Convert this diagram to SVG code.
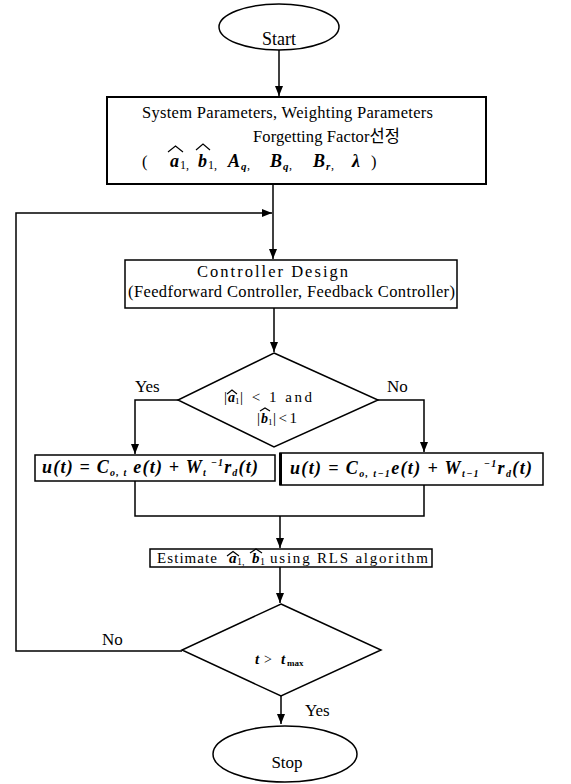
<svg xmlns="http://www.w3.org/2000/svg" width="571" height="784" viewBox="0 0 571 784">
  <style>
    .shape { fill: #fff; stroke: #000; stroke-width: 1.5; }
    .wire { fill: none; stroke: #000; stroke-width: 1.5; }
    .hat { fill: none; stroke: #000; stroke-width: 1.2; }
    .t { font-family: "Liberation Serif", "Noto Sans CJK KR", serif; font-size: 16.5px; fill: #000; }
    .m { font-family: "Liberation Serif", serif; font-size: 18px; font-style: italic; font-weight: bold; fill: #000; }
    .sub { font-size: 10px; }
    .s { font-family: "Liberation Serif", serif; font-size: 11px; font-style: italic; font-weight: bold; fill: #000; }
    .n { font-family: "Liberation Serif", serif; font-size: 12px; fill: #000; }
  </style>
  <defs>
    <marker id="arrow" markerUnits="userSpaceOnUse" markerWidth="10" markerHeight="8" refX="10" refY="4" orient="auto">
      <path d="M0,0 L10,4 L0,8 z" fill="#000"/>
    </marker>
  </defs>

  <!-- connectors -->
  <g id="connectors">
    <path class="wire" d="M279,50 V96" marker-end="url(#arrow)"/>
    <path class="wire" d="M273,184 V259" marker-end="url(#arrow)"/>
    <path class="wire" d="M182,651 H16 V213 H272" marker-end="url(#arrow)"/>
    <path class="wire" d="M274,308 V352" marker-end="url(#arrow)"/>
    <path class="wire" d="M178,400 H135 V454" marker-end="url(#arrow)"/>
    <path class="wire" d="M378,400 H424 V452" marker-end="url(#arrow)"/>
    <path class="wire" d="M135,481 V516 H424 V485"/>
    <path class="wire" d="M280,516 V548" marker-end="url(#arrow)"/>
    <path class="wire" d="M280,567 V603" marker-end="url(#arrow)"/>
    <path class="wire" d="M281,696 V724" marker-end="url(#arrow)"/>
  </g>

  <!-- start terminal -->
  <g id="start">
    <ellipse class="shape" cx="279" cy="27" rx="60" ry="23"/>
    <text class="t" x="279" y="45" text-anchor="middle" style="font-size:18px">Start</text>
  </g>

  <!-- parameter selection -->
  <g id="init">
    <rect class="shape" x="107" y="97" width="379" height="87" style="stroke-width:2"/>
    <text class="t" x="142" y="118" textLength="291" lengthAdjust="spacing">System Parameters, Weighting Parameters</text>
    <text class="t" x="253" y="142" textLength="147" lengthAdjust="spacing">Forgetting Factor선정</text>
    <text class="t" x="142" y="167">(</text>
    <text class="m" x="170" y="167">a</text>
    <text class="n" x="180" y="169">1,</text>
    <path class="hat" d="M168,152 L175.5,146 L183,152"/>
    <text class="m" x="198" y="167">b</text>
    <text class="n" x="208" y="169">1,</text>
    <path class="hat" d="M196,150 L203,144 L210,150"/>
    <text class="m" x="228" y="167">A</text>
    <text class="s" x="241" y="170">q</text>
    <text class="n" x="247" y="169">,</text>
    <text class="m" x="270" y="167">B</text>
    <text class="s" x="283" y="170">q</text>
    <text class="n" x="289" y="169">,</text>
    <text class="m" x="313" y="167">B</text>
    <text class="s" x="326" y="170">r</text>
    <text class="n" x="331" y="169">,</text>
    <text class="m" x="352" y="167">λ</text>
    <text class="t" x="371" y="167">)</text>
  </g>

  <!-- controller design -->
  <g id="design">
    <rect class="shape" x="125" y="260" width="332" height="48"/>
    <text class="t" x="197" y="277" textLength="151" lengthAdjust="spacing">Controller Design</text>
    <text class="t" x="128" y="297" textLength="327" lengthAdjust="spacing">(Feedforward Controller, Feedback Controller)</text>
  </g>

  <!-- stability check -->
  <g id="check">
    <polygon class="shape" points="274,353 378,400 274,447 178,400"/>
    <text class="t" x="135" y="392" style="font-size:17px">Yes</text>
    <text class="t" x="387" y="392" style="font-size:17px">No</text>
    <text class="t" x="224" y="402" style="font-size:15px">|</text>
    <text class="m" x="228" y="402" style="font-size:14px">a</text>
    <text class="n" x="235" y="404" style="font-size:9px">1</text>
    <path class="hat" d="M227,394 L232,390 L237,394"/>
    <text class="t" x="240" y="402" textLength="72" lengthAdjust="spacing" style="font-size:15px">| &lt; 1  and</text>
    <text class="t" x="257" y="423" style="font-size:15px">|</text>
    <text class="m" x="261" y="423" style="font-size:14px">b</text>
    <text class="n" x="268" y="425" style="font-size:9px">1</text>
    <path class="hat" d="M260,411 L265,408 L270,411"/>
    <text class="t" x="273" y="423" textLength="24" lengthAdjust="spacing" style="font-size:15px">|&lt;1</text>
  </g>

  <!-- control law, stable case -->
  <g id="law-stable">
    <rect class="shape" x="35" y="455" width="240" height="26"/>
    <text class="m" x="42" y="473" textLength="216" lengthAdjust="spacing">u(t) = C<tspan class="sub" dy="3">o, t</tspan><tspan dy="-3"> e(t) + W</tspan><tspan class="sub" dy="3">t</tspan><tspan class="sub" dy="-10"> −1</tspan><tspan dy="7">r</tspan><tspan class="sub" dy="3">d</tspan><tspan dy="-3">(t)</tspan></text>
  </g>

  <!-- control law, otherwise -->
  <g id="law-previous">
    <rect class="shape" x="280" y="453" width="263" height="32"/>
    <line x1="280.5" y1="453" x2="280.5" y2="485" stroke="#000" stroke-width="3"/>
    <text class="m" x="290" y="474" textLength="242" lengthAdjust="spacing">u(t) = C<tspan class="sub" dy="3">o, t−1</tspan><tspan dy="-3">e(t) + W</tspan><tspan class="sub" dy="3">t−1</tspan><tspan class="sub" dy="-10"> −1</tspan><tspan dy="7">r</tspan><tspan class="sub" dy="3">d</tspan><tspan dy="-3">(t)</tspan></text>
  </g>

  <!-- parameter estimation -->
  <g id="estimate">
    <rect class="shape" x="150" y="549" width="282" height="18"/>
    <text class="t" x="157" y="563" textLength="60" style="font-size:15px" lengthAdjust="spacing">Estimate</text>
    <text class="m" x="229" y="563" style="font-size:15px">a</text>
    <text class="n" x="237" y="565" style="font-size:10px">1,</text>
    <path class="hat" d="M227,556 L233,551.5 L239,556"/>
    <text class="m" x="252" y="563" style="font-size:15px">b</text>
    <text class="n" x="260" y="565" style="font-size:10px">1</text>
    <path class="hat" d="M250,553 L256,549 L262,553"/>
    <text class="t" x="270" y="563" textLength="158" style="font-size:15px" lengthAdjust="spacing">using RLS algorithm</text>
  </g>

  <!-- termination check -->
  <g id="done">
    <polygon class="shape" points="281,604 381,650 281,696 182,650"/>
    <text class="m" x="255" y="664" style="font-size:15px">t</text>
    <text class="t" x="264" y="664" style="font-size:14px">&gt;</text>
    <text class="m" x="281" y="664" style="font-size:15px">t</text>
    <text class="s" x="287" y="666" style="font-size:9px;font-style:normal">max</text>
    <text class="t" x="102" y="645" style="font-size:17px">No</text>
    <text class="t" x="305" y="716" style="font-size:17px">Yes</text>
  </g>

  <!-- stop terminal -->
  <g id="stop">
    <ellipse class="shape" cx="285" cy="754" rx="72" ry="28"/>
    <text class="t" x="287" y="768" text-anchor="middle" style="font-size:17px">Stop</text>
  </g>
</svg>
